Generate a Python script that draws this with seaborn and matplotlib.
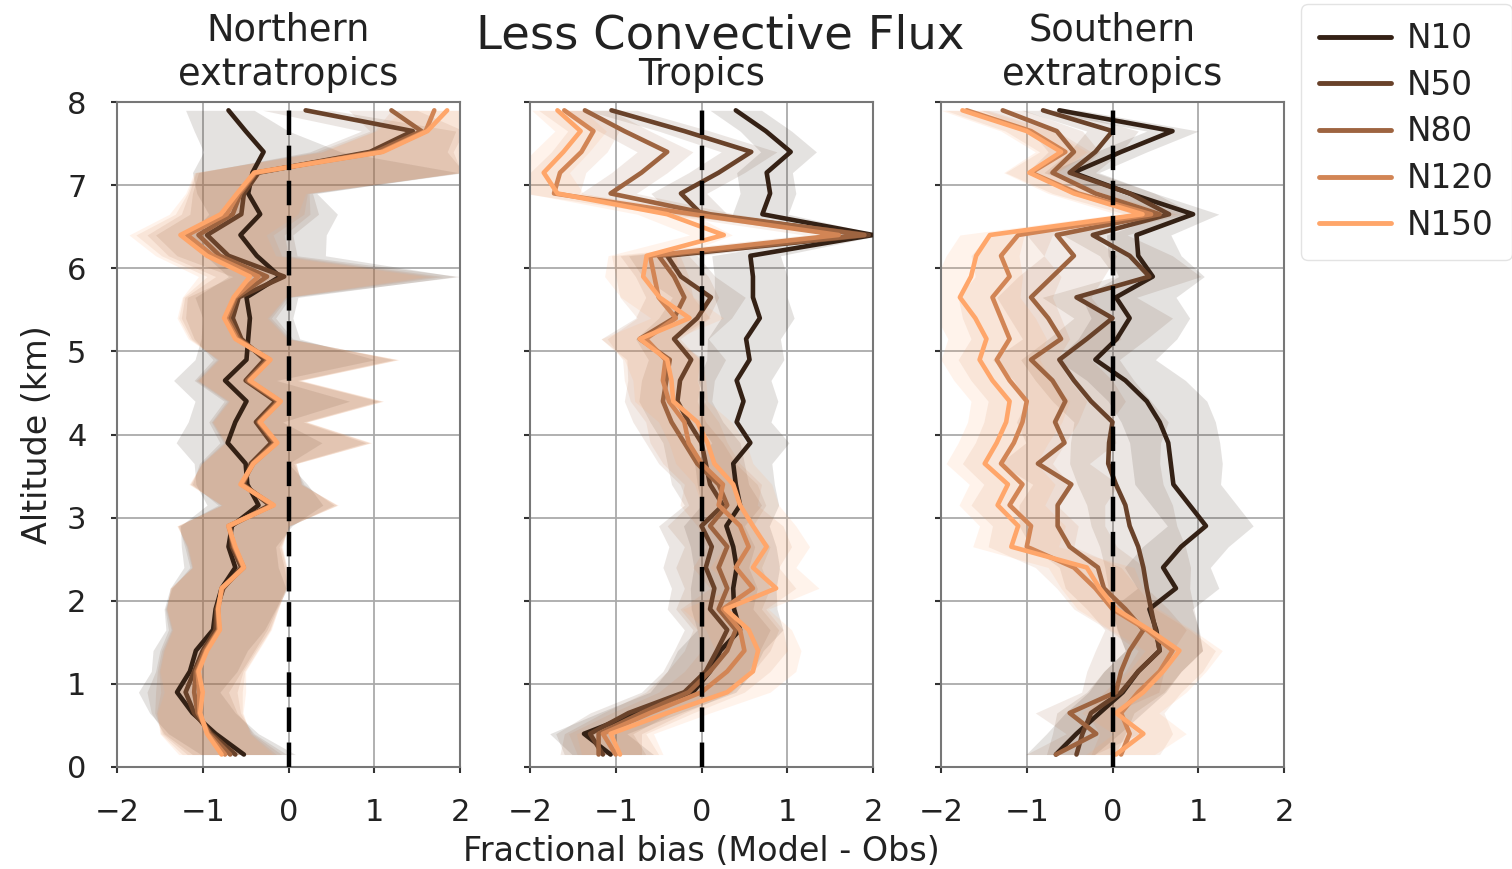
import numpy as np
import pandas as pd
import matplotlib
matplotlib.use("Agg")
import matplotlib.pyplot as plt
from matplotlib.lines import Line2D
import seaborn as sns

# ---------------- data ----------------
runs = ["N10", "N50", "N80", "N120", "N150"]
panel_titles = ["Northern\nextratropics", "Tropics", "Southern\nextratropics"]
suptitle = "Less Convective Flux"
xticks = [-2, -1, 0, 1, 2]
yticks = [0, 1, 2, 3, 4, 5, 6, 7, 8]

altitude = [0.15, 0.40, 0.65, 0.90, 1.15, 1.40, 1.65, 1.90, 2.15, 2.40, 2.65, 2.90,
            3.15, 3.40, 3.65, 3.90, 4.15, 4.40, 4.65, 4.90, 5.15, 5.40, 5.65, 5.90,
            6.15, 6.40, 6.65, 6.90, 7.15, 7.40, 7.65, 7.90]

# Northern extratropics
north_N10 = [-0.52, -0.85, -1.12, -1.30, -1.15, -1.08, -0.88, -0.85, -0.78, -0.62, -0.70, -0.66,
             -0.35, -0.48, -0.50, -0.71, -0.62, -0.49, -0.74, -0.49, -0.47, -0.45, -0.49, -0.10,
             -0.37, -0.56, -0.33, -0.47, -0.42, -0.29, -0.50, -0.70]
north_N50 = [-0.62, -0.90, -1.10, -1.20, -1.10, -1.00, -0.85, -0.84, -0.76, -0.55, -0.66, -0.68,
             -0.22, -0.52, -0.44, -0.20, -0.38, -0.15, -0.50, -0.28, -0.55, -0.65, -0.58, -0.05,
             -0.70, -0.95, -0.55, -0.52, -0.35, 0.95, 1.45, 0.20]
north_N80 = [-0.68, -0.92, -1.06, -1.10, -1.08, -0.98, -0.82, -0.83, -0.77, -0.53, -0.64, -0.69,
             -0.19, -0.54, -0.42, -0.16, -0.35, -0.12, -0.48, -0.24, -0.58, -0.70, -0.61, -0.25,
             -0.80, -1.05, -0.65, -0.56, -0.38, 1.02, 1.55, 1.20]
north_N120 = [-0.74, -0.94, -1.04, -1.04, -1.06, -0.96, -0.81, -0.82, -0.78, -0.52, -0.63, -0.70,
              -0.18, -0.55, -0.41, -0.14, -0.34, -0.10, -0.46, -0.22, -0.60, -0.73, -0.63, -0.35,
              -0.88, -1.18, -0.72, -0.58, -0.39, 1.08, 1.60, 1.70]
north_N150 = [-0.78, -0.95, -1.03, -1.00, -1.05, -0.95, -0.80, -0.82, -0.78, -0.52, -0.62, -0.70,
              -0.17, -0.56, -0.41, -0.13, -0.33, -0.09, -0.45, -0.21, -0.62, -0.75, -0.64, -0.45,
              -0.95, -1.26, -0.79, -0.60, -0.40, 1.10, 1.62, 1.85]
north_spread_lo = [0.50, 0.55, 0.50, 0.45, 0.45, 0.50, 0.55, 0.60, 0.60, 0.60, 0.55, 0.60,
                   0.60, 0.60, 0.60, 0.60, 0.55, 0.60, 0.60, 0.60, 0.55, 0.55, 0.60, 0.60,
                   0.60, 0.60, 0.60, 0.60, 0.70, 0.70, 0.60, 0.50]
north_spread_hi = [0.60, 0.50, 0.50, 0.50, 0.55, 0.60, 0.60, 0.70, 0.75, 0.50, 0.55, 0.70,
                   0.75, 0.70, 0.50, 1.10, 0.55, 1.20, 0.60, 1.50, 0.60, 0.50, 0.60, 2.05,
                   0.80, 1.00, 0.90, 0.80, 2.40, 0.90, 0.50, 0.30]

# Tropics
trop_N10 = [-1.06, -1.37, -0.75, -0.10, 0.10, 0.22, 0.45, 0.38, 0.37, 0.41, 0.37, 0.29,
            0.45, 0.40, 0.37, 0.57, 0.41, 0.49, 0.41, 0.56, 0.52, 0.68, 0.60, 0.60,
            0.57, 2.00, 0.71, 0.80, 0.76, 1.04, 0.75, 0.40]
trop_N50 = [-1.15, -1.30, -0.85, -0.20, 0.05, 0.18, 0.30, 0.10, 0.15, 0.05, 0.12, 0.00,
            0.25, 0.10, 0.05, 0.00, -0.15, -0.28, -0.25, -0.12, -0.32, -0.05, 0.11, -0.24,
            -0.40, 1.95, 0.00, -0.24, 0.20, 0.58, -0.20, -1.05]
trop_N80 = [-1.20, -1.20, -0.70, -0.15, 0.10, 0.30, 0.40, 0.20, 0.30, 0.20, 0.30, 0.10,
            0.30, 0.20, -0.05, -0.20, -0.35, -0.45, -0.41, -0.37, -0.72, -0.32, -0.20, -0.32,
            -0.50, 1.90, 0.10, -1.06, -0.70, -0.40, -0.90, -1.36]
trop_N120 = [-1.00, -1.15, -0.60, 0.00, 0.30, 0.50, 0.45, 0.25, 0.60, 0.40, 0.55, 0.45,
             0.20, 0.25, 0.00, -0.15, -0.20, -0.38, -0.45, -0.42, -0.65, -0.30, -0.50, -0.55,
             -0.60, 1.60, -0.10, -1.72, -1.65, -1.40, -1.26, -1.60]
trop_N150 = [-0.95, -1.06, -0.40, 0.30, 0.60, 0.66, 0.55, 0.28, 0.87, 0.60, 0.76, 0.60,
             0.45, 0.37, 0.15, 0.07, -0.05, -0.33, -0.35, -0.40, -0.72, -0.14, -0.49, -0.68,
             -0.64, 0.26, -0.40, -1.68, -1.84, -1.61, -1.41, -1.68]
trop_spread_lo = [0.45, 0.40, 0.45, 0.50, 0.50, 0.50, 0.50, 0.50, 0.50, 0.50, 0.50, 0.50,
                  0.45, 0.45, 0.45, 0.45, 0.45, 0.45, 0.45, 0.50, 0.45, 0.45, 0.45, 0.45,
                  0.45, 0.40, 0.35, 0.35, 0.35, 0.35, 0.30, 0.30]
trop_spread_hi = [0.50, 0.50, 0.50, 0.50, 0.50, 0.50, 0.50, 0.50, 0.50, 0.50, 0.50, 0.50,
                  0.45, 0.45, 0.45, 0.45, 0.40, 0.40, 0.40, 0.40, 0.40, 0.40, 0.40, 0.40,
                  0.35, 0.10, 0.30, 0.30, 0.30, 0.30, 0.30, 0.30]

# Southern extratropics
south_N10 = [-0.66, -0.42, -0.15, 0.12, 0.30, 0.55, 0.51, 0.43, 0.74, 0.59, 0.80, 1.09,
             0.90, 0.71, 0.68, 0.65, 0.55, 0.40, 0.15, -0.20, 0.05, 0.20, 0.04, 0.47,
             0.30, 0.28, 0.94, 0.20, -0.46, 0.10, 0.70, -0.62]
south_N50 = [-0.42, -0.35, -0.25, 0.10, 0.30, 0.55, 0.50, 0.45, 0.40, 0.36, 0.30, 0.20,
             0.15, 0.04, -0.05, -0.04, 0.00, -0.25, -0.45, -0.62, -0.30, 0.00, -0.42, 0.43,
             0.20, -0.23, 0.66, 0.20, -0.50, -0.20, 0.00, -0.81]
south_N80 = [-0.66, -0.19, -0.50, 0.04, 0.10, 0.20, 0.36, 0.15, -0.10, -0.17, -0.50, -0.64,
             -0.64, -0.48, -0.87, -0.56, -0.67, -0.55, -0.70, -0.95, -0.60, -0.75, -0.95, -0.70,
             -0.45, -0.65, 0.55, -0.20, -0.70, -0.45, -0.65, -1.28]
south_N120 = [0.10, 0.20, 0.10, 0.30, 0.55, 0.70, 0.40, 0.00, -0.20, -0.45, -1.00, -0.95,
              -1.20, -1.05, -1.30, -1.15, -1.05, -1.00, -1.20, -1.35, -1.20, -1.30, -1.40, -1.20,
              -1.30, -1.10, 0.45, -0.40, -0.95, -0.55, -0.95, -1.70]
south_N150 = [0.04, 0.36, 0.04, 0.36, 0.59, 0.78, 0.43, 0.04, -0.15, -0.30, -1.18, -1.10,
              -1.34, -1.22, -1.49, -1.35, -1.24, -1.20, -1.40, -1.55, -1.47, -1.60, -1.78, -1.65,
              -1.59, -1.43, 0.35, -0.45, -0.97, -0.60, -1.00, -1.75]
south_spread_lo = [0.35, 0.35, 0.40, 0.40, 0.40, 0.40, 0.45, 0.45, 0.45, 0.45, 0.45, 0.45,
                   0.45, 0.45, 0.45, 0.45, 0.45, 0.45, 0.45, 0.45, 0.45, 0.45, 0.40, 0.40,
                   0.35, 0.35, 0.30, 0.30, 0.30, 0.30, 0.30, 0.25]
south_spread_hi = [0.45, 0.50, 0.50, 0.50, 0.50, 0.50, 0.50, 0.50, 0.50, 0.55, 0.55, 0.55,
                   0.55, 0.55, 0.60, 0.60, 0.65, 0.70, 0.70, 0.70, 0.70, 0.70, 0.70, 0.60,
                   0.50, 0.40, 0.30, 0.30, 0.30, 0.30, 0.30, 0.25]

panels = [
    ([north_N10, north_N50, north_N80, north_N120, north_N150], north_spread_lo, north_spread_hi),
    ([trop_N10, trop_N50, trop_N80, trop_N120, trop_N150], trop_spread_lo, trop_spread_hi),
    ([south_N10, south_N50, south_N80, south_N120, south_N150], south_spread_lo, south_spread_hi),
]

# ---------------- style ----------------
sns.set_theme(style="ticks")
plt.rcParams["font.family"] = ["DejaVu Sans"]
palette = sns.color_palette("copper", len(runs))
TXT = "#222222"

W, H = 1512, 869
fig = plt.figure(figsize=(W / 100, H / 100), dpi=100)
lefts = [117, 530, 941]
ax_w = 343
ax_top, ax_bot = 102, 767

axes = []
for i, (series, slo, shi) in enumerate(panels):
    ax = fig.add_axes([lefts[i] / W, 1 - ax_bot / H, ax_w / W, (ax_bot - ax_top) / H])
    axes.append(ax)
    alt = np.array(altitude)
    rows = []
    for run, vals in zip(runs, series):
        for a, v in zip(altitude, vals):
            rows.append({"alt": a, "bias": v, "run": run})
    df = pd.DataFrame(rows)

    # uncertainty bands
    for run, vals, col in zip(runs, series, palette):
        v = np.array(vals)
        ax.fill_betweenx(alt, v - np.array(slo), v + np.array(shi),
                         color=col, alpha=0.13, lw=0, zorder=1)

    sns.lineplot(data=df, x="bias", y="alt", hue="run", hue_order=runs,
                 palette=palette, orient="y", estimator=None, sort=True,
                 lw=3.3, legend=False, ax=ax, zorder=3)

    ax.axvline(0, color="black", lw=3.2, dashes=(5.5, 2.4), zorder=5)
    ax.set_xlim(-2, 2)
    ax.set_ylim(0, 8)
    ax.set_xticks(xticks)
    ax.set_yticks(yticks)
    ax.grid(True, color="#aaaaaa", lw=1.3, zorder=0)
    ax.set_axisbelow(True)
    for s in ["top", "right", "left", "bottom"]:
        ax.spines[s].set_visible(True)
        ax.spines[s].set_linewidth(1.5)
        ax.spines[s].set_color("#777777")
    ax.tick_params(axis="both", labelsize=22, length=4, width=1.5, pad=18,
                   color="#333333", labelcolor=TXT)
    ax.set_xlabel("")
    ax.set_ylabel("")
    ax.set_title(panel_titles[i], fontsize=26.5, pad=12, linespacing=1.28, color=TXT)
    if i > 0:
        ax.set_yticklabels([])

axes[0].set_ylabel("Altitude (km)", fontsize=24, color=TXT, labelpad=9)
axes[1].set_xlabel("Fractional bias (Model - Obs)", fontsize=24, color=TXT, labelpad=6)

fig.text(720 / W, 1 - 36 / H, suptitle, ha="center", va="center", fontsize=33.5, color=TXT)

handles = [Line2D([], [], color=c, lw=3.5) for c in palette]
leg = fig.legend(handles, runs, loc="upper left", bbox_to_anchor=(1301 / W, 1 - 4 / H),
                 fontsize=23.5, frameon=True, handlelength=2.2, handletextpad=0.5,
                 labelspacing=0.42, borderpad=0.55, borderaxespad=0, fancybox=True)
leg.get_frame().set_edgecolor("#dddddd")
leg.get_frame().set_linewidth(1.0)
for t in leg.get_texts():
    t.set_color(TXT)

fig.savefig("out.png", dpi=100)
